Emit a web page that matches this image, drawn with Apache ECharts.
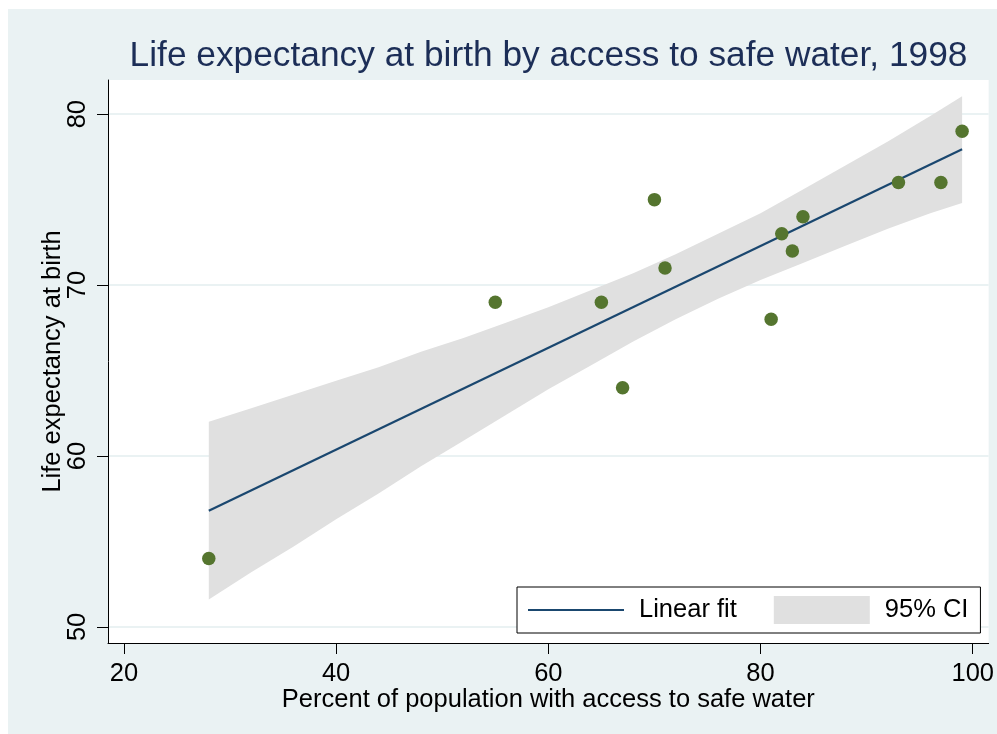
<!DOCTYPE html>
<html>
<head>
<meta charset="utf-8">
<title>Life expectancy vs safe water</title>
<script src="https://cdn.jsdelivr.net/npm/echarts@6/dist/echarts.min.js"></script>
<style>
  html, body {
    margin: 0;
    padding: 0;
    background-color: #fff;
  }
  #myChart {
    position: absolute;
    left: 8px;
    top: 9px;
    width: 989px;
    height: 725px;
  }
</style>
</head>
<body>
<div id="myChart"></div>
<script>
// 散点数据
var waterPct = [28, 55, 65, 67, 70, 71, 81, 82, 83, 84, 93, 97, 99]
var lifeExp = [54, 69, 69, 64, 75, 71, 68, 73, 72, 74, 76, 76, 79]

// 拟合线两端
var fitX = [28, 99]
var fitY = [56.8, 77.95]

// 95% 置信带上下沿（从图上逐段读取）
var ciX = [28, 32, 36, 40, 44, 48, 52, 56, 60, 64, 68, 72, 76, 80, 84, 88, 92, 96, 99]
var ciUpper = [62.0, 62.8, 63.6, 64.4, 65.2, 66.1, 66.9, 67.8, 68.7, 69.7, 70.7, 71.8, 73.0, 74.2, 75.6, 77.0, 78.4, 79.9, 81.05]
var ciLower = [51.6, 53.2, 54.7, 56.3, 57.8, 59.4, 60.9, 62.4, 63.9, 65.3, 66.7, 68.0, 69.2, 70.3, 71.3, 72.3, 73.3, 74.2, 74.8]

// 刻度
var xTicks = [20, 40, 60, 80, 100]
var yTicks = [50, 60, 70, 80]

var font = 'Liberation Sans, Arial, sans-serif'
var myChart = echarts.init(document.getElementById('myChart'))

var option = {
  backgroundColor: '#EAF2F3',
  animation: false,
  title: {
    text: 'Life expectancy at birth by access to safe water, 1998',
    left: 540.5,
    top: 30,
    padding: 0,
    textAlign: 'center',
    textStyle: {
      fontFamily: font,
      fontSize: 35.3,
      fontWeight: 'normal',
      color: '#1C2E57'
    }
  },
  legend: {
    left: 509,
    top: 578,
    padding: [9, 12, 9, 10],
    backgroundColor: '#fff',
    borderColor: '#000',
    borderWidth: 1,
    borderRadius: 0,
    itemWidth: 96,
    itemHeight: 28,
    itemGap: 37,
    selectedMode: false,
    textStyle: {
      fontFamily: font,
      fontSize: 25.5,
      color: '#000',
      padding: [0, 0, 0, 10]
    },
    data: [
      // 图例只要线，不要圆点
      { name: 'Linear fit', itemStyle: { opacity: 0 } },
      { name: '95% CI', icon: 'rect' }
    ]
  },
  grid: {
    show: true,
    left: 100,
    top: 71,
    right: 8,
    bottom: 91,
    backgroundColor: '#fff',
    borderWidth: 0
  },
  xAxis: {
    type: 'value',
    min: 18.5,
    max: 101.5,
    name: 'Percent of population with access to safe water',
    nameLocation: 'middle',
    nameGap: 44,
    nameMoveOverlap: false,
    nameTextStyle: { fontFamily: font, fontSize: 25.5, color: '#000' },
    axisLine: { show: true, onZero: false, lineStyle: { color: '#000', width: 1 } },
    axisTick: { show: true, length: 11, customValues: xTicks, lineStyle: { color: '#000' } },
    axisLabel: {
      customValues: xTicks,
      margin: 18,
      fontFamily: font,
      fontSize: 25.5,
      color: '#000'
    },
    splitLine: { show: false }
  },
  yAxis: {
    type: 'value',
    min: 49.06,
    max: 82.0,
    name: 'Life expectancy at birth',
    nameLocation: 'middle',
    nameGap: 42,
    nameMoveOverlap: false,
    nameTextStyle: { fontFamily: font, fontSize: 25.5, color: '#000' },
    axisLine: { show: true, onZero: false, lineStyle: { color: '#000', width: 1 } },
    axisTick: { show: true, length: 11, customValues: yTicks, lineStyle: { color: '#000' } },
    axisLabel: {
      customValues: yTicks,
      rotate: 90,
      margin: 17,
      fontFamily: font,
      fontSize: 25.5,
      color: '#000'
    },
    splitLine: { show: true, lineStyle: { color: '#EAF2F3', width: 2 } }
  },
  series: [
    {
      name: '95% CI',
      type: 'custom',
      itemStyle: { color: '#E0E0E0' },
      data: [[ciX[0], ciLower[0]]],
      renderItem: function (params, api) {
        var pts = []
        for (var i = 0; i < ciX.length; i++) {
          pts.push(api.coord([ciX[i], ciUpper[i]]))
        }
        for (var j = ciX.length - 1; j >= 0; j--) {
          pts.push(api.coord([ciX[j], ciLower[j]]))
        }
        return {
          type: 'polygon',
          shape: { points: pts },
          style: { fill: '#E0E0E0' }
        }
      },
      z: 1
    },
    {
      name: 'Linear fit',
      type: 'line',
      symbol: 'none',
      data: fitX.map(function (x, i) { return [x, fitY[i]] }),
      itemStyle: { color: '#1A476F' },
      lineStyle: { color: '#1A476F', width: 2.2 },
      z: 2
    },
    {
      name: 'Life expectancy',
      type: 'scatter',
      symbol: 'circle',
      symbolSize: 13.5,
      data: waterPct.map(function (x, i) { return [x, lifeExp[i]] }),
      itemStyle: { color: '#55752F', opacity: 1 },
      z: 3
    }
  ]
}
myChart.setOption(option)
</script>
</body>
</html>
